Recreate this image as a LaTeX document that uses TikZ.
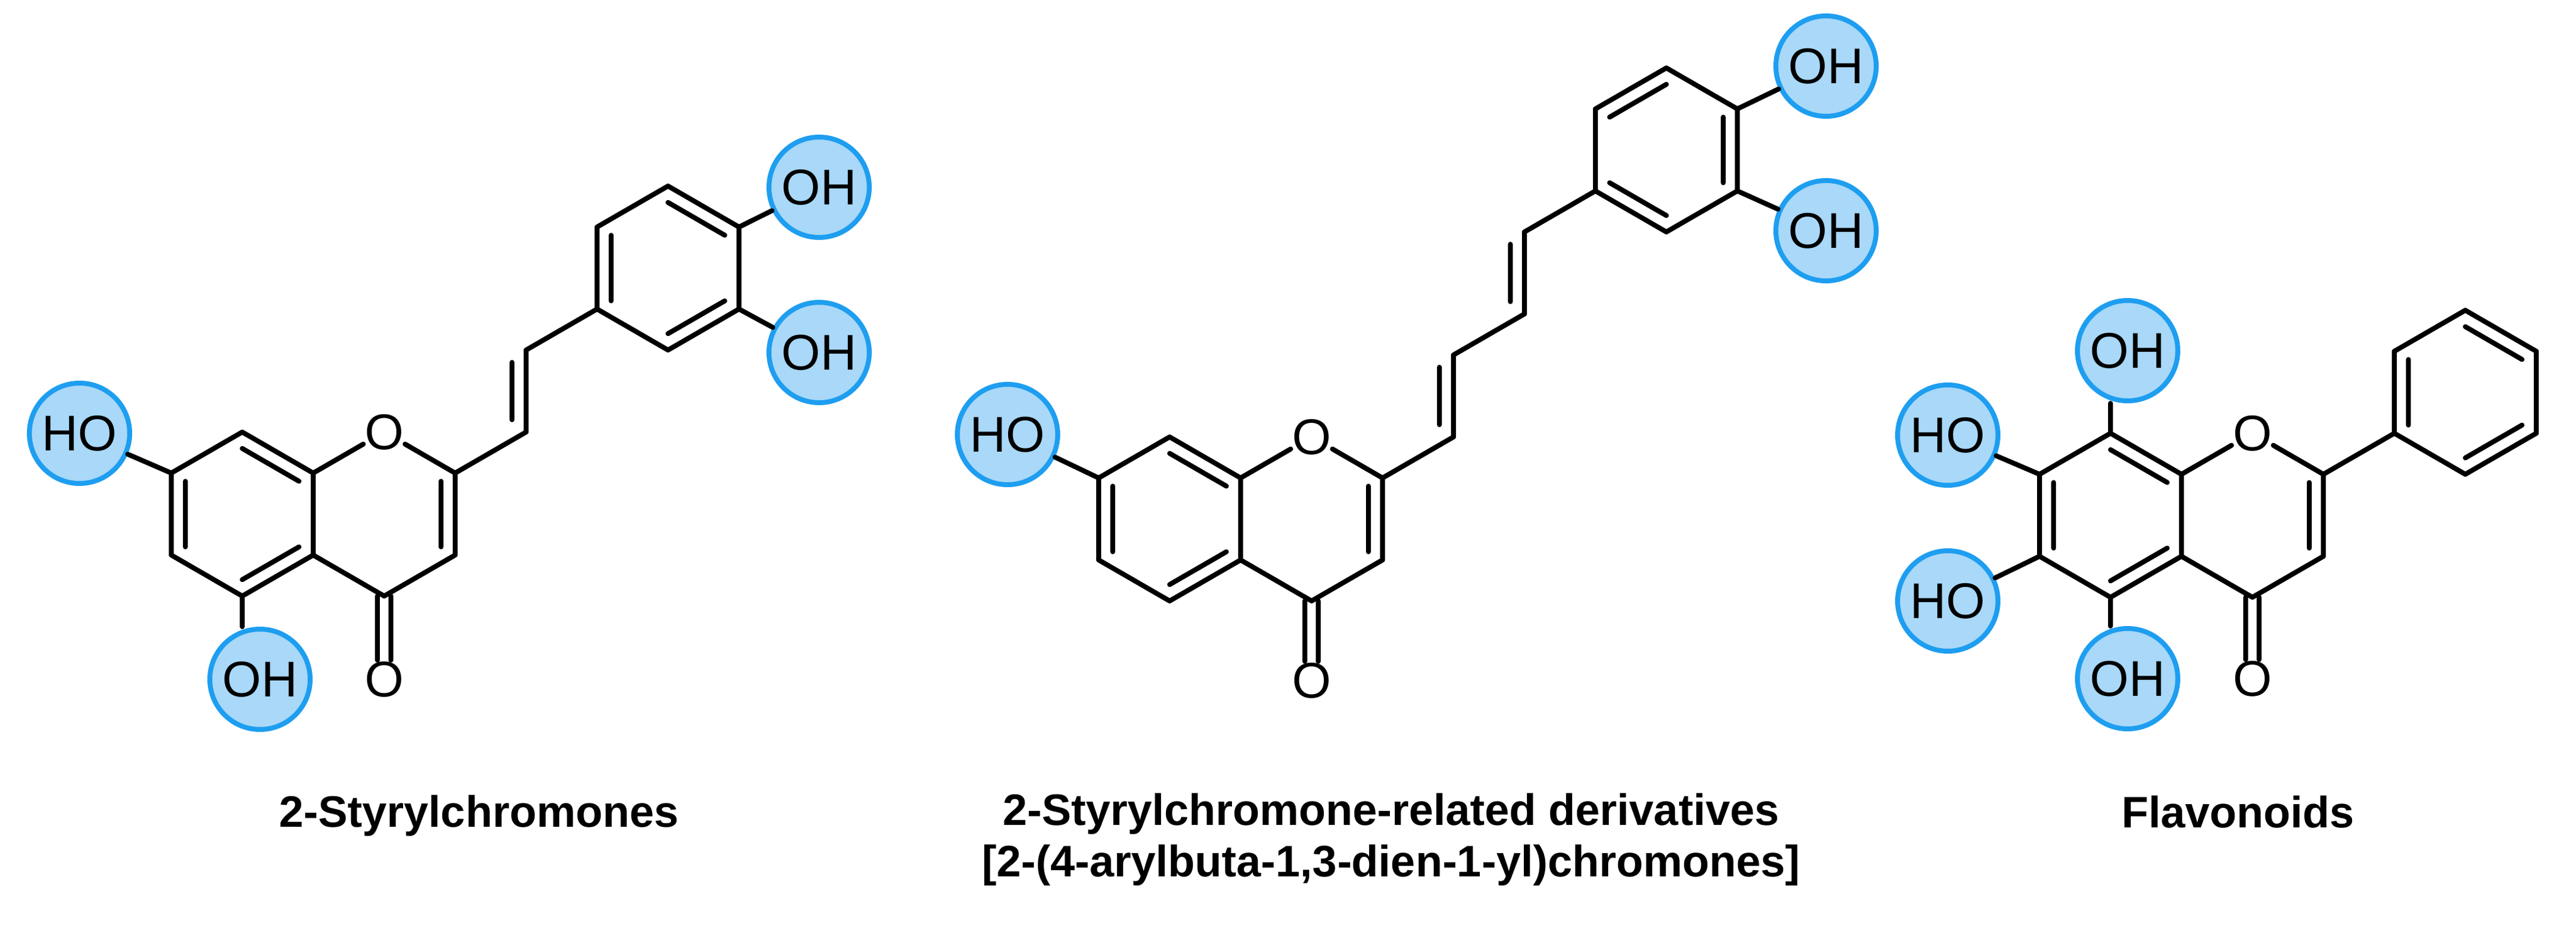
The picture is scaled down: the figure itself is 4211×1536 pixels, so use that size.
\documentclass[tikz,border=0pt]{standalone}
\usepackage{fontspec}
\setmainfont{Liberation Sans}
\usetikzlibrary{calc}
\definecolor{ohfill}{HTML}{A9D8F8}
\definecolor{ohedge}{HTML}{1E9EF0}
\newcommand\dbin[3]{\draw ($(#1)!0.2!(#3)$) -- ($(#2)!0.2!(#3)$);}
\tikzset{
  bond/.style={line width=8pt, line cap=round, line join=round},
  atomlab/.style={font=\fontsize{82}{90}\selectfont, inner sep=2pt, fill=white},
  ohlab/.style={circle, fill=ohfill, draw=ohedge, line width=8pt, minimum size=164pt, inner sep=0pt, font=\fontsize{82}{90}\selectfont},
  title/.style={font=\bfseries\fontsize{72}{84}\selectfont, align=center}
}
\begin{document}
\begin{tikzpicture}[x=1pt,y=-1pt]
\useasboundingbox (0,0) rectangle (4211,1536);
\fill[white] (0,0) rectangle (4211,1536);
% ---------------- Molecule 1 ----------------
\coordinate (a8) at (396,706); \coordinate (a8a) at (512,773); \coordinate (a4a) at (512,907);
\coordinate (a5) at (396,974); \coordinate (a6) at (280,907); \coordinate (a7) at (280,773);
\coordinate (acA) at (396,840); \coordinate (acB) at (628,840);
\coordinate (a2) at (744,773); \coordinate (a3) at (744,907); \coordinate (a4) at (628,974);
\coordinate (av1) at (860,706); \coordinate (av2) at (860,572);
\coordinate (p1) at (976,505); \coordinate (p6) at (976,371); \coordinate (p5) at (1092,304);
\coordinate (p4) at (1208,371); \coordinate (p3) at (1208,505); \coordinate (p2) at (1092,572);
\coordinate (pc) at (1092,438);
\node[atomlab] (aO) at (628,706) {O};
\node[atomlab] (aOc) at (628,1110) {O};
\node[ohlab] (aoh7) at (130,708) {HO};
\node[ohlab] (aoh5) at (425,1110) {OH};
\node[ohlab] (aoh4p) at (1339,306) {OH};
\node[ohlab] (aoh3p) at (1339,576) {OH};
\begin{scope}[bond]
\draw (a7) -- (a8) -- (a8a) -- (a4a) -- (a5) -- (a6) -- cycle;
\dbin{a8}{a8a}{acA} \dbin{a7}{a6}{acA} \dbin{a5}{a4a}{acA}
\draw (a8a) -- (aO) -- (a2) -- (a3) -- (a4) -- (a4a);
\dbin{a2}{a3}{acB}
\draw ([xshift=-11pt]a4) -- ([xshift=-11pt]a4 |- aOc.north);
\draw ([xshift=11pt]a4) -- ([xshift=11pt]a4 |- aOc.north);
\draw (a2) -- (av1) -- (av2) -- (p1);
\draw ($(av1)!0.15!(av2)+(-23,0)$) -- ($(av2)!0.15!(av1)+(-23,0)$);
\draw (p1) -- (p6) -- (p5) -- (p4) -- (p3) -- (p2) -- cycle;
\dbin{p1}{p6}{pc} \dbin{p5}{p4}{pc} \dbin{p3}{p2}{pc}
\draw (a7) -- (aoh7);
\draw (a5) -- (a5 |- aoh5.north);
\draw (p4) -- (aoh4p);
\draw (p3) -- (aoh3p);
\end{scope}
% ---------------- Molecule 2 ----------------
\coordinate (b8) at (1912,714); \coordinate (b8a) at (2028,781); \coordinate (b4a) at (2028,915);
\coordinate (b5) at (1912,982); \coordinate (b6) at (1796,915); \coordinate (b7) at (1796,781);
\coordinate (bcA) at (1912,848); \coordinate (bcB) at (2144,848);
\coordinate (b2) at (2260,781); \coordinate (b3) at (2260,915); \coordinate (b4) at (2144,982);
\coordinate (bv1) at (2376,714); \coordinate (bv2) at (2376,580);
\coordinate (bv3) at (2492,513); \coordinate (bv4) at (2492,379);
\coordinate (q1) at (2608,312); \coordinate (q6) at (2608,178); \coordinate (q5) at (2724,111);
\coordinate (q4) at (2840,178); \coordinate (q3) at (2840,312); \coordinate (q2) at (2724,379);
\coordinate (qc) at (2724,245);
\node[atomlab] (bO) at (2144,714) {O};
\node[atomlab] (bOc) at (2144,1112) {O};
\node[ohlab] (boh7) at (1647,710) {HO};
\node[ohlab] (boh4p) at (2985,108) {OH};
\node[ohlab] (boh3p) at (2985,377) {OH};
\begin{scope}[bond]
\draw (b7) -- (b8) -- (b8a) -- (b4a) -- (b5) -- (b6) -- cycle;
\dbin{b8}{b8a}{bcA} \dbin{b7}{b6}{bcA} \dbin{b5}{b4a}{bcA}
\draw (b8a) -- (bO) -- (b2) -- (b3) -- (b4) -- (b4a);
\dbin{b2}{b3}{bcB}
\draw ([xshift=-11pt]b4) -- ([xshift=-11pt]b4 |- bOc.north);
\draw ([xshift=11pt]b4) -- ([xshift=11pt]b4 |- bOc.north);
\draw (b2) -- (bv1) -- (bv2) -- (bv3) -- (bv4) -- (q1);
\draw ($(bv1)!0.15!(bv2)+(-23,0)$) -- ($(bv2)!0.15!(bv1)+(-23,0)$);
\draw ($(bv3)!0.15!(bv4)+(-23,0)$) -- ($(bv4)!0.15!(bv3)+(-23,0)$);
\draw (q1) -- (q6) -- (q5) -- (q4) -- (q3) -- (q2) -- cycle;
\dbin{q6}{q5}{qc} \dbin{q4}{q3}{qc} \dbin{q2}{q1}{qc}
\draw (b7) -- (boh7);
\draw (q4) -- (boh4p);
\draw (q3) -- (boh3p);
\end{scope}
% ---------------- Molecule 3 ----------------
\coordinate (c8) at (3450,708); \coordinate (c8a) at (3566,775); \coordinate (c4a) at (3566,909);
\coordinate (c5) at (3450,976); \coordinate (c6) at (3334,909); \coordinate (c7) at (3334,775);
\coordinate (ccA) at (3450,842); \coordinate (ccB) at (3682,842);
\coordinate (c2) at (3798,775); \coordinate (c3) at (3798,909); \coordinate (c4) at (3682,976);
\coordinate (r1) at (3914,708); \coordinate (r6) at (3914,574); \coordinate (r5) at (4030,507);
\coordinate (r4) at (4146,574); \coordinate (r3) at (4146,708); \coordinate (r2) at (4030,775);
\coordinate (rc) at (4030,641);
\node[atomlab] (cO) at (3682,708) {O};
\node[atomlab] (cOc) at (3682,1109) {O};
\node[ohlab] (coh8) at (3478,573) {OH};
\node[ohlab] (coh7) at (3184,711) {HO};
\node[ohlab] (coh6) at (3184,982) {HO};
\node[ohlab] (coh5) at (3478,1109) {OH};
\begin{scope}[bond]
\draw (c7) -- (c8) -- (c8a) -- (c4a) -- (c5) -- (c6) -- cycle;
\dbin{c8}{c8a}{ccA} \dbin{c7}{c6}{ccA} \dbin{c5}{c4a}{ccA}
\draw (c8a) -- (cO) -- (c2) -- (c3) -- (c4) -- (c4a);
\dbin{c2}{c3}{ccB}
\draw ([xshift=-11pt]c4) -- ([xshift=-11pt]c4 |- cOc.north);
\draw ([xshift=11pt]c4) -- ([xshift=11pt]c4 |- cOc.north);
\draw (c2) -- (r1);
\draw (r1) -- (r6) -- (r5) -- (r4) -- (r3) -- (r2) -- cycle;
\dbin{r1}{r6}{rc} \dbin{r5}{r4}{rc} \dbin{r3}{r2}{rc}
\draw (c8) -- (c8 |- coh8.south);
\draw (c7) -- (coh7);
\draw (c6) -- (coh6);
\draw (c5) -- (c5 |- coh5.north);
\end{scope}
% ---------------- Titles ----------------
\node[title] (t1) at (783,1333) {2-Styrylchromones};
\node[title] (t2) at (2274,1372) {2-Styrylchromone-related derivatives\\{}[2-(4-arylbuta-1,3-dien-1-yl)chromones]};
\node[title] (t3) at (3658,1327) {Flavonoids};
\end{tikzpicture}
\end{document}
